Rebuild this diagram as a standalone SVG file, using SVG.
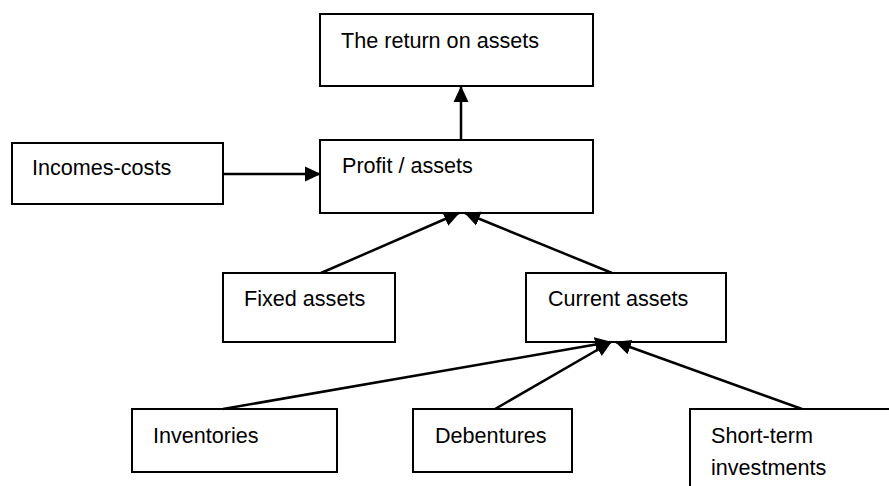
<svg xmlns="http://www.w3.org/2000/svg" width="889" height="486" viewBox="0 0 889 486">
  <style>
    .box { fill: #ffffff; stroke: #000000; stroke-width: 2; }
    .lbl { font-family: "Liberation Sans", Arial, sans-serif; font-size: 21.6px; fill: #000000; }
    .edge { fill: none; stroke: #000000; stroke-width: 2.5; marker-end: url(#head); }
  </style>
  <defs>
    <marker id="head" markerUnits="userSpaceOnUse" markerWidth="17" markerHeight="17" viewBox="0 0 17 17" refX="15" refY="8.5" orient="auto">
      <path d="M0,1 L16,8.5 L0,16 Z" fill="#000000"/>
    </marker>
  </defs>
  <rect width="889" height="486" fill="#ffffff"/>

  <g id="return-on-assets">
    <rect class="box" x="320" y="14" width="273" height="72"/>
    <text class="lbl" x="341" y="48">The return on assets</text>
  </g>
  <g id="profit-assets">
    <rect class="box" x="320" y="140" width="273" height="73"/>
    <text class="lbl" x="342" y="173">Profit / assets</text>
  </g>
  <g id="incomes-costs">
    <rect class="box" x="12" y="143" width="211" height="61"/>
    <text class="lbl" x="32" y="175">Incomes-costs</text>
  </g>
  <g id="fixed-assets">
    <rect class="box" x="223" y="273" width="172" height="69"/>
    <text class="lbl" x="244" y="306">Fixed assets</text>
  </g>
  <g id="current-assets">
    <rect class="box" x="526" y="273" width="200" height="69"/>
    <text class="lbl" x="548" y="306">Current assets</text>
  </g>
  <g id="inventories">
    <rect class="box" x="132" y="409" width="205" height="63"/>
    <text class="lbl" x="153" y="443">Inventories</text>
  </g>
  <g id="debentures">
    <rect class="box" x="413" y="409" width="159" height="63"/>
    <text class="lbl" x="435" y="443">Debentures</text>
  </g>
  <!-- open on the right and bottom: the box runs past the page edge -->
  <g id="short-term-investments">
    <rect class="box" x="690" y="409" width="260" height="120"/>
    <text class="lbl" x="711" y="443">Short-term</text>
    <text class="lbl" x="711" y="475">investments</text>
  </g>

  <g id="connectors">
    <line class="edge" x1="461" y1="140" x2="461" y2="87"/>
    <line class="edge" x1="223" y1="174" x2="320" y2="174"/>
    <line class="edge" x1="321" y1="273" x2="459" y2="213"/>
    <line class="edge" x1="612" y1="273" x2="465" y2="213"/>
    <line class="edge" x1="223" y1="409" x2="610" y2="342"/>
    <line class="edge" x1="495" y1="409" x2="611" y2="342"/>
    <line class="edge" x1="802" y1="409" x2="616" y2="342"/>
  </g>
</svg>
